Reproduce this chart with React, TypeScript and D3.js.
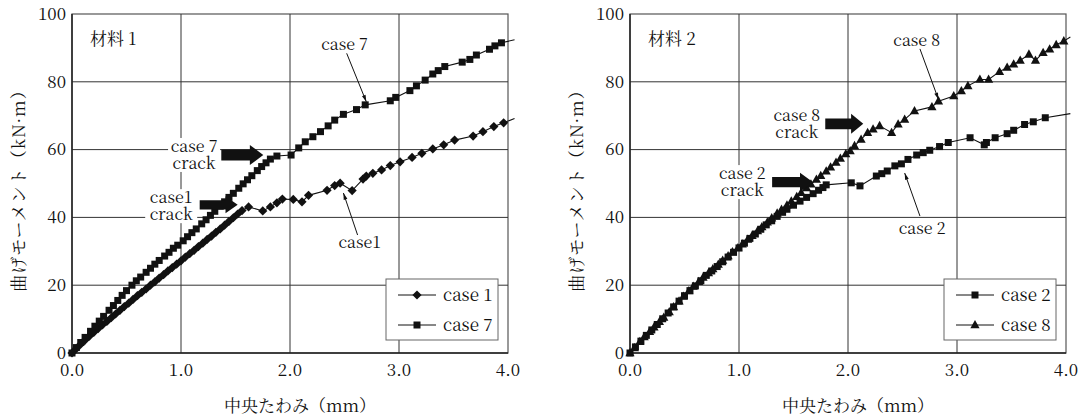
import * as d3 from "d3";

type Pt = [number, number];

const xTicks = [0, 1, 2, 3, 4];
const yTicks = [0, 20, 40, 60, 80, 100];

// 材料 1 (last point of each list is the line tail, drawn without a marker)
const case1: Pt[] = [
  [0, 0], [0.04, 1.3], [0.08, 2.6], [0.12, 3.8], [0.16, 5.0], [0.2, 6.1], [0.24, 7.2],
  [0.28, 8.3], [0.32, 9.3], [0.36, 10.4], [0.4, 11.5], [0.44, 12.6], [0.48, 13.7],
  [0.52, 14.7], [0.56, 15.8], [0.6, 16.9], [0.64, 17.9], [0.68, 18.9], [0.72, 20.0],
  [0.76, 21.0], [0.8, 22.1], [0.84, 23.1], [0.88, 24.2], [0.92, 25.2], [0.96, 26.2],
  [1.0, 27.2], [1.04, 28.3], [1.08, 29.3], [1.12, 30.3], [1.16, 31.4], [1.2, 32.4],
  [1.24, 33.5], [1.28, 34.5], [1.32, 35.6], [1.36, 36.6], [1.4, 37.7], [1.44, 38.8],
  [1.48, 39.9], [1.52, 41.0], [1.56, 42.0], [1.62, 43.1], [1.75, 41.9], [1.82, 43.1],
  [1.88, 44.3], [1.93, 45.4], [2.03, 45.3], [2.11, 44.6], [2.17, 46.5], [2.34, 48.0],
  [2.41, 49.4], [2.46, 50.1], [2.57, 47.9], [2.67, 51.3], [2.7, 52.2], [2.76, 53.0],
  [2.84, 54.0], [2.92, 55.3], [3.01, 56.4], [3.12, 57.7], [3.21, 58.9], [3.31, 60.2],
  [3.41, 61.4], [3.51, 62.8], [3.68, 64.0], [3.77, 65.3], [3.87, 66.8], [3.96, 67.9],
  [4.06, 69.2],
];

const case7: Pt[] = [
  [0, 0], [0.04, 1.6], [0.08, 3.1], [0.12, 4.6], [0.17, 6.4], [0.21, 7.9], [0.25, 9.4],
  [0.29, 10.8], [0.34, 12.6], [0.38, 14.0], [0.42, 15.5], [0.46, 17.0], [0.5, 18.4],
  [0.55, 20.0], [0.59, 21.3], [0.63, 22.4], [0.68, 23.8], [0.72, 25.0], [0.76, 26.2],
  [0.8, 27.3], [0.85, 28.6], [0.89, 29.7], [0.93, 30.9], [0.97, 31.8], [1.02, 33.1],
  [1.06, 34.3], [1.1, 35.5], [1.14, 36.6], [1.19, 38.1], [1.23, 39.3], [1.27, 40.6],
  [1.31, 41.8], [1.36, 43.3], [1.4, 44.6], [1.44, 45.9], [1.48, 47.1], [1.53, 48.6],
  [1.57, 49.9], [1.61, 51.1], [1.65, 52.3], [1.7, 53.8], [1.74, 55.0], [1.78, 56.1],
  [1.82, 57.2], [1.88, 58.1], [2.01, 58.4], [2.08, 60.5], [2.14, 62.3], [2.21, 63.8],
  [2.28, 65.3], [2.35, 67.0], [2.41, 68.7], [2.49, 70.4], [2.61, 71.8], [2.69, 73.2],
  [2.92, 74.4], [2.97, 75.4], [3.1, 77.4], [3.16, 78.8], [3.24, 80.5], [3.31, 82.3],
  [3.36, 83.3], [3.42, 84.5], [3.58, 85.8], [3.65, 86.6], [3.71, 87.9], [3.83, 89.6],
  [3.88, 90.6], [3.94, 91.5], [4.06, 92.4],
];

// 材料 2
const case2: Pt[] = [
  [0, 0], [0.05, 1.8], [0.1, 3.5], [0.15, 5.2], [0.2, 6.8], [0.25, 8.4], [0.3, 10.1],
  [0.35, 11.8], [0.4, 13.6], [0.45, 15.3], [0.5, 16.9], [0.55, 18.4], [0.6, 19.8],
  [0.65, 21.3], [0.7, 22.9], [0.75, 24.2], [0.8, 25.5], [0.85, 26.9], [0.9, 28.3],
  [0.95, 29.7], [1.0, 31.0], [1.05, 32.4], [1.1, 33.8], [1.15, 35.1], [1.2, 36.5],
  [1.25, 37.8], [1.3, 39.0], [1.35, 40.3], [1.4, 41.5], [1.44, 42.4], [1.5, 43.6],
  [1.56, 44.8], [1.62, 45.9], [1.68, 47.0], [1.73, 48.0], [1.77, 48.8], [1.8, 49.6],
  [2.03, 50.2], [2.11, 49.3], [2.26, 52.2], [2.31, 52.9], [2.36, 53.7], [2.43, 55.2],
  [2.49, 55.8], [2.55, 57.1], [2.63, 58.4], [2.69, 59.1], [2.75, 59.8], [2.84, 60.9],
  [2.92, 62.1], [3.12, 63.5], [3.25, 61.4], [3.27, 62.1], [3.35, 63.5], [3.46, 64.7],
  [3.52, 65.7], [3.62, 67.4], [3.7, 68.2], [3.81, 69.4], [4.04, 70.6],
];

const case8: Pt[] = [
  [0, 0], [0.04, 1.5], [0.09, 3.3], [0.13, 4.7], [0.18, 6.3], [0.22, 7.6], [0.27, 9.2],
  [0.31, 10.5], [0.36, 12.1], [0.4, 13.6], [0.45, 15.3], [0.49, 16.7], [0.54, 18.3],
  [0.58, 19.6], [0.63, 21.0], [0.67, 22.3], [0.72, 23.6], [0.76, 24.8], [0.81, 26.1],
  [0.85, 27.3], [0.9, 28.6], [0.94, 29.8], [0.99, 31.0], [1.03, 32.1], [1.08, 33.5],
  [1.12, 34.6], [1.17, 36.0], [1.21, 37.2], [1.26, 38.6], [1.3, 39.8], [1.35, 41.2],
  [1.39, 42.3], [1.44, 43.6], [1.48, 44.8], [1.53, 46.1], [1.57, 47.3], [1.62, 48.7],
  [1.66, 49.8], [1.71, 51.2], [1.75, 52.3], [1.8, 53.6], [1.84, 54.8], [1.89, 56.2],
  [1.93, 57.4], [1.98, 58.7], [2.02, 59.6], [2.06, 61.1], [2.12, 63.0], [2.18, 65.0],
  [2.23, 66.0], [2.29, 67.0], [2.4, 65.0], [2.46, 67.5], [2.52, 68.9], [2.61, 71.4],
  [2.77, 72.6], [2.83, 74.3], [2.97, 75.8], [3.04, 77.3], [3.1, 78.8], [3.21, 80.7],
  [3.29, 80.7], [3.39, 83.0], [3.46, 84.2], [3.52, 85.2], [3.58, 86.3], [3.66, 88.1],
  [3.72, 86.3], [3.79, 88.6], [3.85, 89.6], [3.91, 90.9], [3.98, 92.0], [4.04, 93.2],
];

const W = 436;
const H = 339;
const FONT = "'Noto Serif CJK JP', 'Liberation Serif', serif";
const tf = { fontFamily: FONT };

type Shape = "diamond" | "square" | "triangle";

function markerPath(shape: Shape, x: number, y: number) {
  if (shape === "diamond") return `M${x},${y - 4.6}L${x + 4.6},${y}L${x},${y + 4.6}L${x - 4.6},${y}Z`;
  if (shape === "square") return `M${x - 3.5},${y - 3.5}h7v7h-7Z`;
  return `M${x},${y - 5}L${x + 4.6},${y + 3.3}L${x - 4.6},${y + 3.3}Z`;
}

interface Series { name: string; data: Pt[]; shape: Shape }
interface Note { lines: string[]; x: number; y: number; arrow: [number, number, number, number] }
interface Leader { text: string; x: number; y: number; from: Pt; to: Pt }

function BlockArrow({ tx, ty, w, h }: { tx: number; ty: number; w: number; h: number }) {
  const head = w * 0.32;
  const b = h * 0.27;
  const x0 = tx - w;
  const d = `M${x0},${ty - b}L${tx - head},${ty - b}L${tx - head},${ty - h / 2}L${tx},${ty}L${tx - head},${ty + h / 2}L${tx - head},${ty + b}L${x0},${ty + b}Z`;
  return <path d={d} fill="#111" />;
}

function Panel({ left, top, title, series, notes, leaders }: {
  left: number; top: number; title: string; series: Series[]; notes: Note[]; leaders: Leader[];
}) {
  const x = d3.scaleLinear().domain([0, 4]).range([0, W]);
  const y = d3.scaleLinear().domain([0, 100]).range([H, 0]);
  const line = d3.line<Pt>().x((d) => x(d[0])).y((d) => y(d[1]));

  return (
    <g transform={`translate(${left},${top})`}>
      <rect x={0} y={0} width={W} height={H} fill="#fff" stroke="#555" strokeWidth={1.2} />
      {xTicks.slice(1, -1).map((t) => (
        <line key={"gx" + t} x1={x(t)} x2={x(t)} y1={0} y2={H} stroke="#333" strokeWidth={1} />
      ))}
      {yTicks.slice(1, -1).map((t) => (
        <line key={"gy" + t} x1={0} x2={W} y1={y(t)} y2={y(t)} stroke="#333" strokeWidth={1} />
      ))}
      <line x1={0} x2={W} y1={H} y2={H} stroke="#222" strokeWidth={1.5} />
      <line x1={0} x2={0} y1={0} y2={H} stroke="#222" strokeWidth={1.5} />

      {/* annotation text backgrounds */}
      {notes.map((n, i) => (
        <rect key={"bg" + i} x={x(n.x) - 26} y={y(n.y) - 14} width={52} height={34} fill="#fff" />
      ))}

      {series.map((s) => (
        <g key={s.name}>
          <path d={line(s.data) ?? ""} fill="none" stroke="#111" strokeWidth={1.1} />
          {s.data.slice(0, -1).map((d, i) => (
            <path key={i} d={markerPath(s.shape, x(d[0]), y(d[1]))} fill="#111" />
          ))}
        </g>
      ))}

      {notes.map((n, i) => (
        <g key={"n" + i}>
          {n.lines.map((l, j) => (
            <text key={j} x={x(n.x)} y={y(n.y) + j * 17} textAnchor="middle" fontSize={16} fill="#111" style={tf}>{l}</text>
          ))}
          <BlockArrow tx={x(n.arrow[0])} ty={y(n.arrow[1])} w={n.arrow[2]} h={n.arrow[3]} />
        </g>
      ))}

      {leaders.map((l, i) => {
        const x1 = x(l.from[0]), y1 = y(l.from[1]), x2 = x(l.to[0]), y2 = y(l.to[1]);
        const a = Math.atan2(y2 - y1, x2 - x1);
        const hx = (ang: number) => x2 - 7 * Math.cos(a + ang);
        const hy = (ang: number) => y2 - 7 * Math.sin(a + ang);
        return (
          <g key={"l" + i}>
            <text x={x(l.x)} y={y(l.y)} textAnchor="middle" fontSize={16} fill="#111" style={tf}>{l.text}</text>
            <line x1={x1} y1={y1} x2={x2} y2={y2} stroke="#111" strokeWidth={1} />
            <path d={`M${x2},${y2}L${hx(0.28)},${hy(0.28)}L${hx(-0.28)},${hy(-0.28)}Z`} fill="#111" />
          </g>
        );
      })}

      {yTicks.map((t) => (
        <text key={"ty" + t} x={-6} y={y(t)} dy="0.34em" textAnchor="end" fontSize={17} fill="#111" style={tf}>{t}</text>
      ))}
      {xTicks.map((t) => (
        <text key={"tx" + t} x={x(t)} y={H + 23} textAnchor="middle" fontSize={17} fill="#111" style={tf}>{t.toFixed(1)}</text>
      ))}

      <text x={18} y={31} fontSize={17} fill="#111" style={tf}>{title}</text>

      <text x={W / 2 + 10} y={H + 59} textAnchor="middle" fontSize={17} fill="#111" style={tf}>中央たわみ（mm）</text>
      <text transform={`translate(${-53},${H / 2 + 3}) rotate(-90)`} textAnchor="middle" dy="0.35em" fontSize={17} letterSpacing={1} fill="#111" style={tf}>曲げモーメント（kN·m）</text>

      <g transform="translate(314,265)">
        <rect x={0} y={0} width={112} height={61} fill="#fff" stroke="#666" strokeWidth={1} />
        {series.map((s, i) => (
          <g key={"lg" + s.name} transform={`translate(0,${16 + i * 30})`}>
            <line x1={12} x2={50} y1={0} y2={0} stroke="#111" strokeWidth={1} />
            <path d={markerPath(s.shape, 31, 0)} fill="#111" />
            <text x={57} y={0} dy="0.34em" fontSize={17} fill="#111" style={tf}>{s.name}</text>
          </g>
        ))}
      </g>
    </g>
  );
}

export default function App() {
  return (
    <div style={{ position: "absolute", left: 0, top: 0 }}>
      <svg width={1081} height={419} style={{ display: "block", background: "#fff" }}>
        <Panel
          left={72}
          top={14}
          title="材料 1"
          series={[
            { name: "case 1", data: case1, shape: "diamond" },
            { name: "case 7", data: case7, shape: "square" },
          ]}
          notes={[
            { lines: ["case 7", "crack"], x: 1.12, y: 59.3, arrow: [1.755, 58.4, 42, 20] },
            { lines: ["case1", "crack"], x: 0.91, y: 44.2, arrow: [1.52, 43.7, 38, 17] },
          ]}
          leaders={[
            { text: "case 7", x: 2.5, y: 89.4, from: [2.52, 88.4], to: [2.7, 74.1] },
            { text: "case1", x: 2.64, y: 31.0, from: [2.62, 34.8], to: [2.49, 47.2] },
          ]}
        />
        <Panel
          left={630}
          top={14}
          title="材料 2"
          series={[
            { name: "case 2", data: case2, shape: "square" },
            { name: "case 8", data: case8, shape: "triangle" },
          ]}
          notes={[
            { lines: ["case 8", "crack"], x: 1.53, y: 68.4, arrow: [2.14, 67.6, 38, 20] },
            { lines: ["case 2", "crack"], x: 1.03, y: 51.3, arrow: [1.68, 50.4, 41, 19] },
          ]}
          leaders={[
            { text: "case 8", x: 2.63, y: 90.6, from: [2.66, 89.7], to: [2.83, 74.8] },
            { text: "case 2", x: 2.68, y: 35.1, from: [2.66, 40.4], to: [2.52, 53.1] },
          ]}
        />
      </svg>
    </div>
  );
}
